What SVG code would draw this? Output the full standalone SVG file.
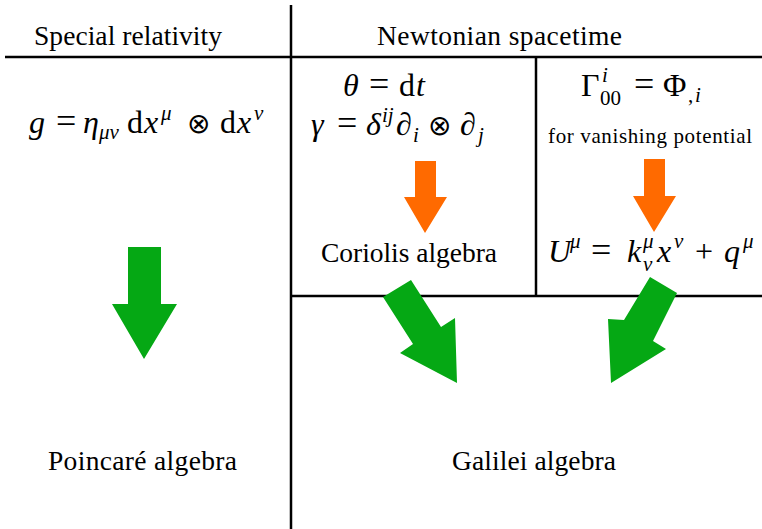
<svg xmlns="http://www.w3.org/2000/svg" width="762" height="529" viewBox="0 0 762 529">
<style>
.ln{stroke:#000;stroke-width:2.5;fill:none}
.t{font-family:"Liberation Serif","DejaVu Serif",serif;font-size:27.5px;fill:#000}
.m{font-family:"Liberation Serif","DejaVu Serif",serif;font-size:32px;fill:#000}
.i{font-style:italic}
.s{font-size:21px}
.eq{font-size:36px}
.op{font-family:"DejaVu Sans",sans-serif;font-size:28px;font-weight:200}
.sm{font-family:"Liberation Serif","DejaVu Serif",serif;font-size:21px;fill:#000}
.g{fill:#05a814}
.o{fill:#ff6a00}
</style>
<rect width="762" height="529" fill="#fff"/>
<g id="grid">
<line class="ln" x1="291" y1="5" x2="291" y2="529"/>
<line class="ln" x1="5" y1="57" x2="762" y2="57"/>
<line class="ln" x1="536" y1="57" x2="536" y2="296"/>
<line class="ln" x1="291" y1="296" x2="762" y2="296"/>
</g>
<g id="header-sr"><text class="t" x="34" y="45" textLength="188">Special relativity</text></g>
<g id="header-nst"><text class="t" x="377" y="45" textLength="245">Newtonian spacetime</text></g>
<g id="metric-sr"><text class="m" y="133"><tspan class="i" x="29">g</tspan><tspan class="eq" x="56">=</tspan><tspan class="i" x="83">η</tspan><tspan class="s i" x="99" y="139">μν</tspan><tspan x="127" y="133">d</tspan><tspan class="i" x="144">x</tspan><tspan class="s i" x="161" y="120">μ</tspan><tspan class="op" x="187" y="133">⊗</tspan><tspan x="220">d</tspan><tspan class="i" x="237">x</tspan><tspan class="s i" x="254" y="120">ν</tspan></text></g>
<g id="newton-metric">
<text class="m" y="96"><tspan class="i" x="343">θ</tspan><tspan class="eq" x="369">=</tspan><tspan x="399">d</tspan><tspan class="i" x="416">t</tspan></text>
<text class="m" y="135"><tspan class="i" x="311">γ</tspan><tspan class="eq" x="337">=</tspan><tspan class="i" x="366">δ</tspan><tspan class="s i" x="382" y="122">ij</tspan><tspan class="i" x="396" y="135">∂</tspan><tspan class="s i" x="413" y="142">i</tspan><tspan class="op" x="428" y="135">⊗</tspan><tspan class="i" x="460">∂</tspan><tspan class="s i" x="478" y="142">j</tspan></text>
</g>
<g id="connection">
<text class="m" y="96"><tspan x="581">Γ</tspan><tspan class="s i" x="602" y="82">i</tspan><tspan class="s" x="600" y="105">00</tspan><tspan class="eq" x="634" y="96">=</tspan><tspan x="663">Φ</tspan><tspan class="s" x="688" y="102">,</tspan><tspan class="s i" x="695">i</tspan></text>
<text class="sm" x="548" y="143" textLength="204">for vanishing potential</text>
</g>
<g id="coriolis"><text class="t" x="321" y="262" textLength="176">Coriolis algebra</text></g>
<g id="affine"><text class="m" y="262"><tspan class="i" x="548">U</tspan><tspan class="s i" x="570" y="248">μ</tspan><tspan class="eq" x="591" y="262">=</tspan><tspan class="i" x="627">k</tspan><tspan class="s i" x="643" y="248">μ</tspan><tspan class="s i" x="643" y="271">ν</tspan><tspan class="i" x="657" y="262">x</tspan><tspan class="s i" x="674" y="248">ν</tspan><tspan x="695" y="262">+</tspan><tspan class="i" x="724">q</tspan><tspan class="s i" x="743" y="248">μ</tspan></text></g>
<g id="poincare"><text class="t" x="48" y="470" textLength="189">Poincaré algebra</text></g>
<g id="galilei"><text class="t" x="452" y="470" textLength="164">Galilei algebra</text></g>
<g id="arrows">
<polygon class="o" points="415,161 436,161 436,197 447,197 425,233 404,197 415,197"/>
<polygon class="o" points="644,159 665,159 665,196 676,196 654,232 633,196 644,196"/>
<polygon class="g" points="128,247 161,247 161,304 177,304 144,359 112,304 128,304"/>
<polygon class="g" points="383,297 411,280 441,327 455,318 457,383 400,353 413,344"/>
<polygon class="g" points="650,277 677,293 653,341 666,349 611,383 608,319 624,320"/>
</g>
</svg>
